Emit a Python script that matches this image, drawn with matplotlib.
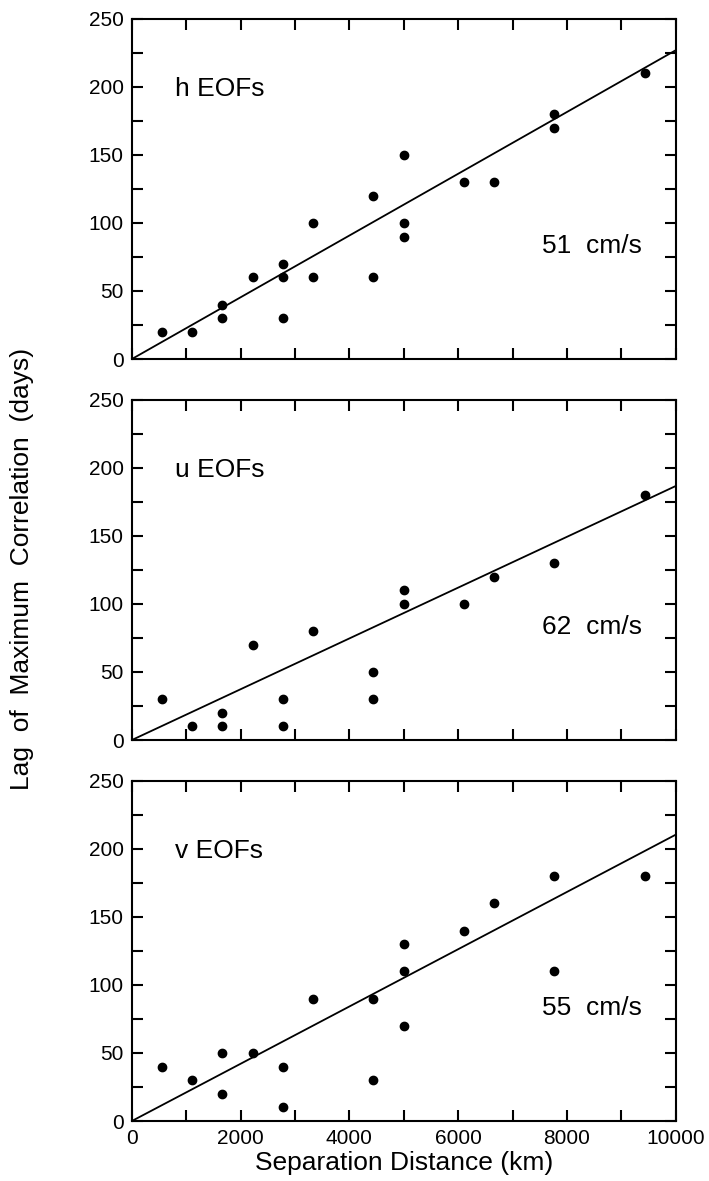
import matplotlib
matplotlib.use("Agg")
import matplotlib.pyplot as plt
import numpy as np

plt.rcParams['font.family'] = ['Liberation Sans', 'DejaVu Sans']

# separation distances (km) and lags (days)
h_x = [555, 1110, 1665, 1665, 2220, 2775, 2775, 2775, 3330, 3330, 4440, 4440,
       4995, 4995, 4995, 6105, 6660, 7770, 7770, 9435]
h_y = [20, 20, 40, 30, 60, 70, 60, 30, 100, 60, 120, 60,
       150, 100, 90, 130, 130, 180, 170, 210]

u_x = [555, 1110, 1665, 1665, 2220, 2775, 2775, 3330, 4440, 4440,
       4995, 4995, 6105, 6660, 7770, 9435]
u_y = [30, 10, 20, 10, 70, 30, 10, 80, 50, 30,
       110, 100, 100, 120, 130, 180]

v_x = [555, 1110, 1665, 1665, 2220, 2775, 2775, 3330, 4440, 4440,
       4995, 4995, 4995, 6105, 6660, 7770, 7770, 9435]
v_y = [40, 30, 50, 20, 50, 40, 10, 90, 90, 30,
       130, 110, 70, 140, 160, 180, 110, 180]

names = ['h EOFs', 'u EOFs', 'v EOFs']
speeds = [51, 62, 55]   # cm/s, slope of fitted line through origin

fig = plt.figure(figsize=(7.09, 11.81), dpi=100)
bottoms = [0.696, 0.3734, 0.0508]
data = [(h_x, h_y), (u_x, u_y), (v_x, v_y)]

for i in range(3):
    ax = fig.add_axes([0.186, bottoms[i], 0.767, 0.288])
    xs, ys = data[i]
    ax.plot(xs, ys, 'o', color='black', ms=6, mec='black')
    km_per_day = speeds[i] / 100 * 86400 / 1000
    lx = np.array([0, 10000])
    ax.plot(lx, lx / km_per_day, color='black', lw=1.3)
    ax.set_xlim(0, 10000)
    ax.set_ylim(0, 250)
    ax.set_xticks(np.arange(0, 10001, 2000))
    ax.set_xticks(np.arange(0, 10001, 1000), minor=True)
    ax.set_yticks(np.arange(0, 251, 50))
    ax.set_yticks(np.arange(0, 251, 25), minor=True)
    ax.tick_params(which='both', direction='in', top=True, right=True,
                   length=8, width=1.5, labelsize=15, pad=6)
    for s in ax.spines.values():
        s.set_linewidth(1.5)
    if i < 2:
        ax.set_xticklabels([])
    ax.text(790, 193.5, names[i], fontsize=19, va='baseline', ha='left')
    ax.text(7540, 78, '%d  cm/s' % speeds[i], fontsize=19, va='baseline', ha='left')
    if i == 2:
        ax.set_xlabel('Separation Distance (km)', fontsize=19, labelpad=2)

fig.text(0.031, 0.518, 'Lag  of  Maximum  Correlation  (days)', rotation=90,
         fontsize=19, ha='center', va='center')

fig.savefig('out.png', dpi=100)
